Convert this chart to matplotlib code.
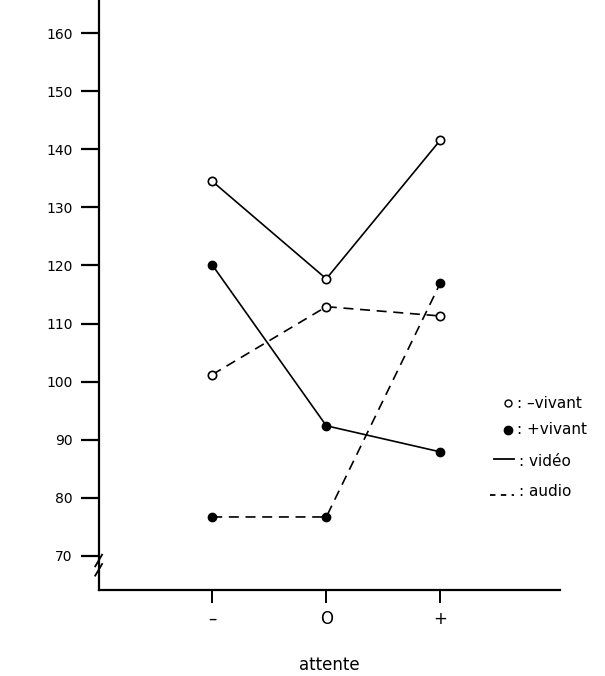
import matplotlib.pyplot as plt
from matplotlib.lines import Line2D

# attente: -, 0, +
x = [1, 2, 3]
x_labels = ['\u2013', 'O', '+']

moins_video = [134.5, 117.7, 141.6]
moins_audio = [101.2, 112.9, 111.3]
plus_video = [120.1, 92.4, 87.9]
plus_audio = [76.7, 76.7, 117.0]

y_ticks = [70, 80, 90, 100, 110, 120, 130, 140, 150, 160]

fig = plt.figure(figsize=(6.05, 6.76), dpi=100)
ax = fig.add_axes([0.164, 0.127, 0.762, 0.873])

ms = 6
lw = 1.2
dash = (0, (6, 4))

ax.plot(x, moins_video, color='black', lw=lw, marker='o', ms=ms,
        mfc='white', mec='black', mew=1.2)
ax.plot(x, moins_audio, color='black', lw=lw, ls=dash, marker='o', ms=ms,
        mfc='white', mec='black', mew=1.2)
ax.plot(x, plus_video, color='black', lw=lw, marker='o', ms=ms,
        mfc='black', mec='black')
ax.plot(x, plus_audio, color='black', lw=lw, ls=dash, marker='o', ms=ms,
        mfc='black', mec='black')

ax.set_xlim(0.01, 4.05)
ax.set_ylim(64.1, 165.7)

ax.spines['top'].set_visible(False)
ax.spines['right'].set_visible(False)
ax.spines['left'].set_linewidth(1.6)
ax.spines['bottom'].set_linewidth(1.6)

ax.set_yticks(y_ticks)
ax.set_yticklabels([str(v) for v in y_ticks], fontsize=10)
ax.tick_params(axis='y', direction='out', length=13, width=1.6, pad=6)

ax.set_xticks(x)
ax.set_xticklabels(x_labels, fontsize=12)
ax.tick_params(axis='x', direction='out', length=9, width=1.4, pad=5)

fig.text(329 / 605, 1 - 665 / 676, 'attente', fontsize=12,
         ha='center', va='center')

# coupure de l'axe
for dy in (0, 1.6):
    ax.plot([-0.025, 0.035], [66.6 + dy, 68.6 + dy], color='black', lw=1.3,
            clip_on=False)

# legende
lx = 0.835
fig.lines.append(Line2D([lx + 0.005], [1 - 403 / 676], marker='o', ms=5,
                        mfc='white', mec='black', transform=fig.transFigure))
fig.text(lx + 0.02, 1 - 403 / 676, ': \u2013vivant', fontsize=11, va='center')
fig.lines.append(Line2D([lx + 0.005], [1 - 430 / 676], marker='o', ms=6,
                        mfc='black', mec='black', transform=fig.transFigure))
fig.text(lx + 0.02, 1 - 430 / 676, ': +vivant', fontsize=11, va='center')
fig.lines.append(Line2D([0.817, 0.85], [1 - 459 / 676, 1 - 459 / 676],
                        color='black', lw=1.3, transform=fig.transFigure))
fig.text(0.858, 1 - 461 / 676, ': vidéo', fontsize=11, va='center')
fig.lines.append(Line2D([0.81, 0.85], [1 - 495 / 676, 1 - 495 / 676],
                        color='black', lw=1.3, ls=(0, (3, 3)),
                        transform=fig.transFigure))
fig.text(0.858, 1 - 492 / 676, ': audio', fontsize=11, va='center')

fig.savefig('out.png', dpi=100)
